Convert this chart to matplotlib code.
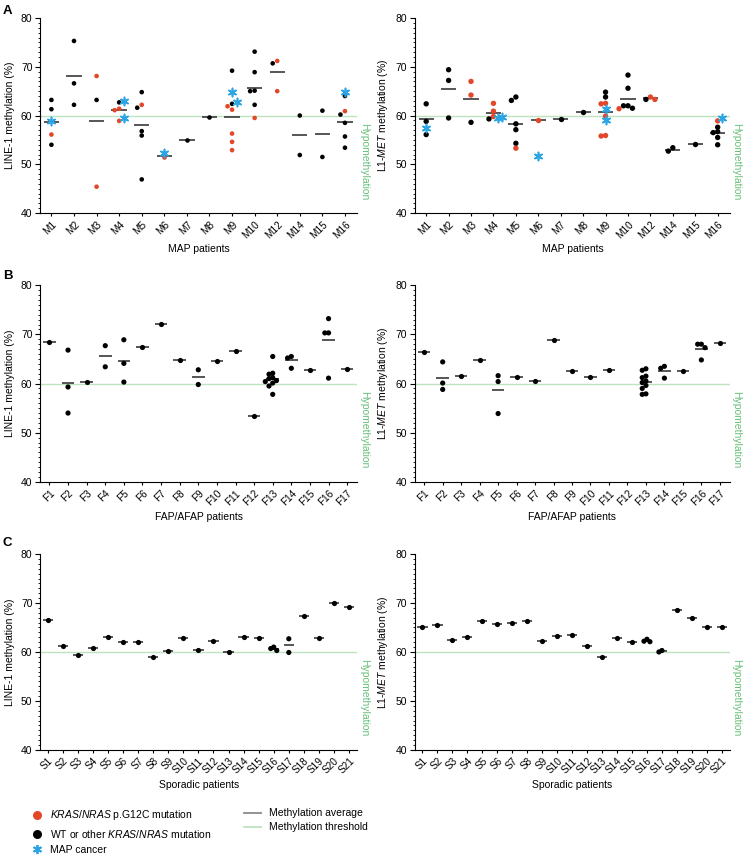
import numpy as np
import matplotlib
matplotlib.use('Agg')
import matplotlib.pyplot as plt
import matplotlib.transforms as mtrans
from matplotlib.lines import Line2D
from matplotlib.ticker import MultipleLocator

plt.rcParams['font.family'] = ['Liberation Sans', 'DejaVu Sans']
plt.rcParams['mathtext.fontset'] = 'custom'
plt.rcParams['mathtext.rm'] = 'Liberation Sans'
plt.rcParams['mathtext.it'] = 'Liberation Sans:italic'

#Panel A: MAP patients -------------------------------------------
mapPatients = ['M1', 'M2', 'M3', 'M4', 'M5', 'M6', 'M7', 'M8', 'M9', 'M10', 'M12', 'M14', 'M15', 'M16']

line1MapBlack = [[63.2, 61.3, 54.0], [75.3, 66.6, 62.2], [63.2], [62.7], [64.8, 61.6, 56.8, 55.9, 46.9],
                 [], [54.9], [59.8], [69.2, 62.4], [73.1, 68.9, 65.1, 65.0, 62.2], [70.7],
                 [60.0, 51.9], [61.0, 51.5], [64.0, 60.2, 58.5, 55.7, 53.4]]
line1MapRed = [[56.1], [], [68.1, 45.4], [61.4, 61.1, 58.9], [62.2], [51.5], [], [],
               [61.9, 61.2, 56.3, 54.6, 52.9], [59.5], [71.2, 65.0], [], [], [60.9]]
line1MapStar = [[58.9], [], [], [63.0, 59.4], [], [52.4], [], [], [64.9, 62.8], [], [], [], [], [64.9]]
line1MapMean = [58.7, 68.1, 58.9, 61.1, 58.1, 51.6, 54.9, 59.8, 59.8, 65.7, 69.0, 56.0, 56.2, 58.7]

metMapBlack = [[62.4, 58.8, 56.1], [69.4, 67.2, 59.5], [58.6], [59.3], [63.8, 63.1, 58.3, 57.1, 54.3],
               [], [59.3], [60.8], [64.8, 63.8], [68.3, 65.6, 62.0, 62.0, 61.5], [63.3],
               [53.4, 52.7], [54.1], [57.6, 56.7, 56.5, 55.5, 54.0]]
metMapRed = [[], [], [67.0, 64.2], [62.5, 60.9, 59.8], [53.3], [59.1], [], [],
             [62.5, 62.4, 59.9, 55.9, 55.8], [61.4], [63.8, 63.3], [], [], [58.9]]
metMapStar = [[57.5], [], [], [59.4, 59.6], [], [51.7], [], [], [61.3, 59.0], [], [], [], [], [59.5]]
metMapMean = [59.2, 65.4, 63.3, 60.6, 58.3, 59.1, 59.3, 60.8, 60.7, 63.4, 63.6, 53.0, 54.1, 56.5]

#Panel B: FAP/AFAP patients -------------------------------------------
fapPatients = ['F' + str(i) for i in range(1, 18)]

line1FapBlack = [[68.4], [66.8, 59.3, 54.0], [60.3], [67.7, 63.4], [68.9, 64.1, 60.3], [67.4], [72.1],
                 [64.7], [62.8, 59.8], [64.5], [66.6], [53.4],
                 [65.5, 62.1, 61.9, 61.2, 61.0, 60.6, 60.4, 60.1, 59.5, 57.8],
                 [65.5, 65.2, 63.1], [62.7], [73.2, 70.3, 70.3, 61.1], [63.0]]
line1FapMean = [68.4, 60.1, 60.3, 65.5, 64.5, 67.4, 72.1, 64.7, 61.3, 64.5, 66.6, 53.4, 61.0, 64.7, 62.7, 68.8, 63.0]

metFapBlack = [[66.4], [64.4, 60.1, 58.8], [61.5], [64.8], [61.6, 60.4, 53.9], [61.4], [60.6],
               [68.9], [62.5], [61.3], [62.7], [],
               [63.0, 62.7, 61.5, 61.2, 60.5, 60.2, 59.6, 59.0, 57.9, 57.8],
               [63.5, 63.1, 61.1], [62.5], [68.0, 68.0, 67.3, 64.8], [68.2]]
metFapMean = [66.4, 61.1, 61.5, 64.8, 58.6, 61.4, 60.6, 68.9, 62.5, 61.3, 62.7, np.nan, 60.4, 62.6, 62.5, 67.1, 68.2]

#Panel C: Sporadic patients -------------------------------------------
sporPatients = ['S' + str(i) for i in range(1, 22)]

line1SporBlack = [[66.5], [61.3], [59.4], [60.8], [63.0], [62.0], [62.0], [59.0], [60.2], [62.8], [60.5],
                  [62.3], [60.0], [63.0], [62.9], [61.0, 60.3, 60.7], [62.7, 59.9], [67.3], [62.8],
                  [70.0], [69.2]]
line1SporMean = [66.5, 61.3, 59.4, 60.8, 63.0, 62.0, 62.0, 59.0, 60.2, 62.8, 60.5, 62.3, 60.0, 63.0, 62.9,
                 60.7, 61.4, 67.3, 62.8, 70.0, 69.2]

metSporBlack = [[65.1], [65.6], [62.4], [63.0], [66.4], [65.7], [66.0], [66.4], [62.2], [63.3], [63.5],
                [61.2], [59.0], [62.9], [62.1], [62.6, 62.1, 62.2], [60.0, 60.3], [68.6], [67.0],
                [65.0], [65.0]]
metSporMean = [65.1, 65.6, 62.4, 63.0, 66.4, 65.7, 66.0, 66.4, 62.2, 63.3, 63.5, 61.2, 59.0, 62.9, 62.1,
               62.3, 60.1, 68.6, 67.0, 65.0, 65.0]

threshold = 60

redCol = '#e2472a'
blueCol = '#2ba5e4'
meanCol = '#3a3a3a'
threshCol = '#bde3bf'
hypoCol = '#66bf78'


def swarm(vals, order, step=0.2, ygap=0.85):
    #place points side by side when they overlap in y
    placed = []
    offs = []
    for v, ks in zip(vals, order):
        dx = 0
        for k in ks:
            dx = k * step
            if all(abs(dx - px) >= step * 0.9 or abs(v - py) >= ygap for px, py in placed):
                break
        placed.append((dx, v))
        offs.append(dx)
    return offs


def drawPanel(ax, names, black, means, red=None, star=None, dotSize=14, xlabel='', ylabel=''):
    n = len(names)
    dotOrder = [0, -1, 1, -2, 2, -3, 3]
    starOrder = [0, 1, -1, 2, -2]
    for i in range(n):
        pts = [(v, 'k') for v in black[i]]
        if red is not None:
            pts += [(v, redCol) for v in red[i]]
        pts.sort(key=lambda p: -p[0])
        vals = [p[0] for p in pts]
        cols = [p[1] for p in pts]
        stars = star[i] if star is not None else []
        offs = swarm(vals + list(stars), [dotOrder] * len(vals) + [starOrder] * len(stars))
        if len(vals) > 0:
            ax.scatter(i + np.array(offs[:len(vals)]), vals, s=dotSize, c=cols, linewidths=0, zorder=3)
        if len(stars) > 0:
            ax.scatter(i + np.array(offs[len(vals):]), stars, s=34, marker=(6, 2, 0),
                       c=blueCol, linewidths=1.2, zorder=4)
        if not np.isnan(means[i]):
            ax.hlines(means[i], i - 0.34, i + 0.34, color=meanCol, lw=1.2, zorder=2)

    ax.axhline(threshold, color=threshCol, lw=1.0, zorder=1)
    trans = mtrans.blended_transform_factory(ax.transAxes, ax.transData)
    ax.text(1.004, threshold - 1.5, 'Hypomethylation', transform=trans, rotation=-90,
            ha='left', va='top', color=hypoCol, fontsize=7.5)

    ax.set_xlim(-0.5, n - 0.45)
    ax.set_ylim(40, 80)
    ax.set_yticks([40, 50, 60, 70, 80])
    ax.yaxis.set_minor_locator(MultipleLocator(1))
    ax.set_xticks(range(n))
    ax.set_xticklabels(names, rotation=45, ha='right', rotation_mode='anchor', fontsize=7.2)
    ax.tick_params(axis='y', which='major', length=3.5, width=0.8, labelsize=7.5, pad=2)
    ax.tick_params(axis='y', which='minor', length=1.6, width=0.6)
    ax.tick_params(axis='x', length=2.5, width=0.8, pad=2)
    for s in ['top', 'right']:
        ax.spines[s].set_visible(False)
    for s in ['left', 'bottom']:
        ax.spines[s].set_linewidth(0.8)
    ax.set_xlabel(xlabel, fontsize=7.5, labelpad=3)
    ax.set_ylabel(ylabel, fontsize=7.5, labelpad=4)


fig = plt.figure(figsize=(7.43, 8.59), dpi=100)

line1Lab = 'LINE-1 methylation (%)'
metLab = r'L1-$\mathit{MET}$ methylation (%)'

axA1 = fig.add_axes([0.054, 0.752, 0.427, 0.227])
drawPanel(axA1, mapPatients, line1MapBlack, line1MapMean, line1MapRed, line1MapStar,
          dotSize=11, xlabel='MAP patients', ylabel=line1Lab)
axA2 = fig.add_axes([0.5585, 0.752, 0.424, 0.227])
drawPanel(axA2, mapPatients, metMapBlack, metMapMean, metMapRed, metMapStar,
          dotSize=15, xlabel='MAP patients', ylabel=metLab)

axB1 = fig.add_axes([0.054, 0.439, 0.427, 0.229])
drawPanel(axB1, fapPatients, line1FapBlack, line1FapMean, xlabel='FAP/AFAP patients', ylabel=line1Lab)
axB2 = fig.add_axes([0.5585, 0.439, 0.424, 0.229])
drawPanel(axB2, fapPatients, metFapBlack, metFapMean, xlabel='FAP/AFAP patients', ylabel=metLab)

axC1 = fig.add_axes([0.054, 0.127, 0.427, 0.228])
drawPanel(axC1, sporPatients, line1SporBlack, line1SporMean, xlabel='Sporadic patients', ylabel=line1Lab)
axC2 = fig.add_axes([0.5585, 0.127, 0.424, 0.228])
drawPanel(axC2, sporPatients, metSporBlack, metSporMean, xlabel='Sporadic patients', ylabel=metLab)

for lab, y in [('A', 0.994), ('B', 0.686), ('C', 0.375)]:
    fig.text(0.004, y, lab, fontsize=9.5, fontweight='bold', va='top', ha='left')

#legend
h1 = [Line2D([], [], ls='none', marker='o', ms=6.5, mfc=redCol, mec='none'),
      Line2D([], [], ls='none', marker='o', ms=6.5, mfc='k', mec='none'),
      Line2D([], [], ls='none', marker=(6, 2, 0), ms=6.5, mec=blueCol, mew=1.3)]
l1 = [r'$\mathit{KRAS/NRAS}$ p.G12C mutation', r'WT or other $\mathit{KRAS/NRAS}$ mutation', 'MAP cancer']
fig.legend(h1, l1, loc='upper left', bbox_to_anchor=(0.043, 0.059), frameon=False, fontsize=7.5,
           handlelength=1.0, handletextpad=0.75, labelspacing=0.5, borderpad=0, borderaxespad=0)

h2 = [Line2D([], [], color='#8a8a8a', lw=1.3), Line2D([], [], color=threshCol, lw=1.3)]
l2 = ['Methylation average', 'Methylation threshold']
fig.legend(h2, l2, loc='upper left', bbox_to_anchor=(0.329, 0.059), frameon=False, fontsize=7.5,
           handlelength=1.6, handletextpad=0.8, labelspacing=0.4, borderpad=0, borderaxespad=0)

fig.savefig('out.png', dpi=100)
